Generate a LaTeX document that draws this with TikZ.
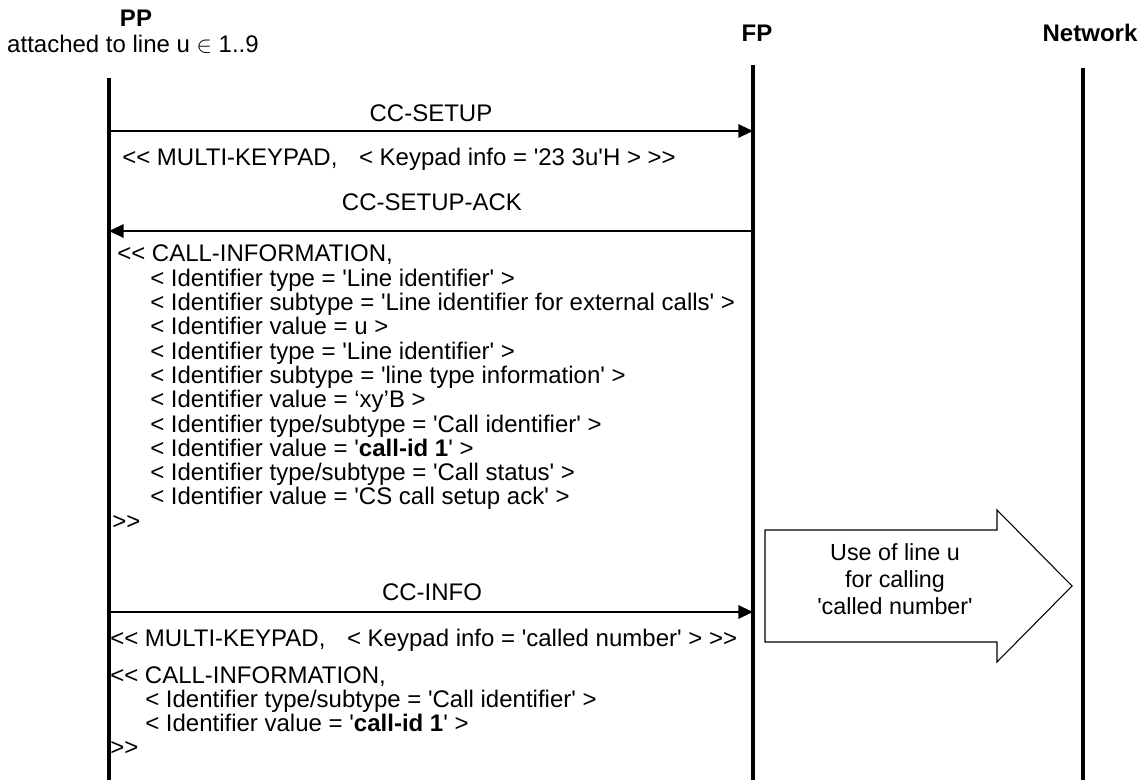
\documentclass[tikz,border=0pt]{standalone}
\usepackage{fontspec}
\setmainfont{Liberation Sans}[Ligatures=TeXOff]
\usetikzlibrary{arrows.meta}
\newcommand{\msgfont}{\fontsize{18}{21}\selectfont}

\begin{document}
\begin{tikzpicture}[x=.75pt,y=-.75pt,font=\msgfont,
    lifeline/.style={line width=2.5pt},
    msg/.style={line width=1.5pt,-{Triangle[length=11pt,width=10pt]}},
    txt/.style={anchor=base west,inner sep=0pt},
    lbl/.style={anchor=base,inner sep=0pt}]
  \useasboundingbox (0,0) rectangle (1140,780);
  % entities
  \node[lbl,font=\msgfont\bfseries] (pp) at (136,27) {PP};
  \node[lbl] (ppnote) at (133,53) {attached to line u $\in$ 1..9};
  \node[lbl,font=\msgfont\bfseries] (fp) at (757,42) {FP};
  \node[lbl,font=\msgfont\bfseries] (net) at (1090,42) {Network};
  \coordinate (pptop) at (109,78);   \coordinate (ppbot) at (109,780);
  \coordinate (fptop) at (753,65);   \coordinate (fpbot) at (753,780);
  \coordinate (nettop) at (1083,68); \coordinate (netbot) at (1083,780);
  \draw[lifeline] (pptop) -- (ppbot);
  \draw[lifeline] (fptop) -- (fpbot);
  \draw[lifeline] (nettop) -- (netbot);
  % CC-SETUP
  \node[lbl] (setup) at (431,122) {CC-SETUP};
  \coordinate (setupy) at (0,131);
  \draw[msg] (pptop |- setupy) -- (fptop |- setupy);
  \node[txt] (keypad) at (122,166)
    {<< MULTI-KEYPAD,\hspace{0.9em}< Keypad info = '23 3u'H > >>};
  % CC-SETUP-ACK
  \node[lbl] (ack) at (432,211) {CC-SETUP-ACK};
  \coordinate (acky) at (0,231);
  \draw[msg] (fptop |- acky) -- (pptop |- acky);
  \foreach \dx/\txt [count=\i from 0] in {
      0/{<< CALL-INFORMATION,},
      33/{< Identifier type = 'Line identifier' >},
      33/{< Identifier subtype = 'Line identifier for external calls' >},
      33/{< Identifier value = u >},
      33/{< Identifier type = 'Line identifier' >},
      33/{< Identifier subtype = 'line type information' >},
      33/{< Identifier value = ‘xy’B >},
      33/{< Identifier type/subtype = 'Call identifier' >},
      33/{< Identifier value = '\textbf{call-id 1}' >},
      33/{< Identifier type/subtype = 'Call status' >},
      33/{< Identifier value = 'CS call setup ack' >},
      -5/{>>}} {
    \node[txt] (callinfo\i) at (117+\dx,262+24.3*\i) {\txt};
  }
  % CC-INFO
  \node[lbl] (info) at (432,601) {CC-INFO};
  \coordinate (infoy) at (0,612);
  \draw[msg] (pptop |- infoy) -- (fptop |- infoy);
  \node[txt] (number) at (110,647)
    {<< MULTI-KEYPAD,\hspace{0.9em}< Keypad info = 'called number' > >>};
  \foreach \dx/\txt [count=\i from 0] in {
      0/{<< CALL-INFORMATION,},
      35/{< Identifier type/subtype = 'Call identifier' >},
      35/{< Identifier value = '\textbf{call-id 1}' >},
      0/{>>}} {
    \node[txt] (callid\i) at (110+\dx,683+24.3*\i) {\txt};
  }
  % use of line u
  \draw[line width=.8pt] (765,530) -- (997,530) -- (997,510) -- (1072,586)
    -- (997,662) -- (997,642) -- (765,642) -- cycle;
  \node[align=center,font=\fontsize{17.5}{20.25}\selectfont] (useline) at (895,579)
    {Use of line u\\for calling\\'called number'};
\end{tikzpicture}
\end{document}
